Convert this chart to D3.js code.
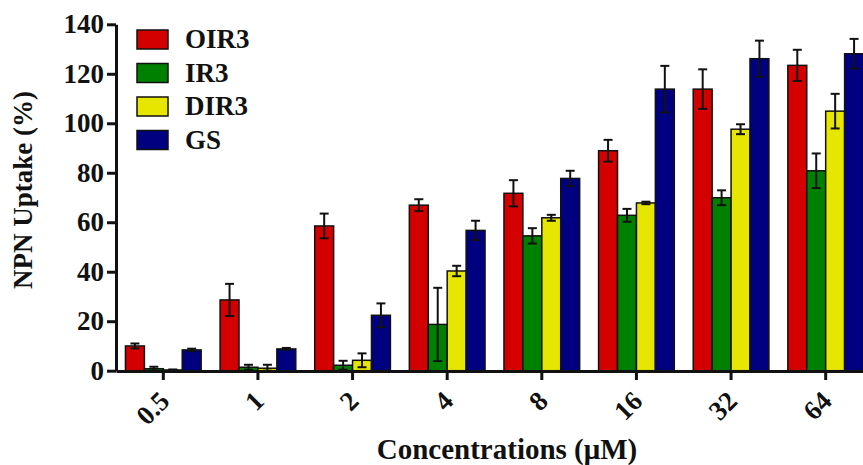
<!DOCTYPE html>
<html>
<head>
<meta charset="utf-8">
<script src="https://cdn.jsdelivr.net/npm/d3@7"></script>
<style>
  body { margin: 0; background: #fff; }
  text { font-family: "Liberation Serif", "Times New Roman", serif; font-weight: bold; }
</style>
</head>
<body>
<div id="chart"></div>
<script>
// data
var concentrations = ["0.5", "1", "2", "4", "8", "16", "32", "64"];
var seriesNames = ["OIR3", "IR3", "DIR3", "GS"];
var oir3 = [10.0, 28.6, 58.5, 66.9, 71.7, 88.9, 113.8, 123.4];
var oir3Err = [1.0, 6.5, 5.0, 2.4, 5.3, 4.4, 8.0, 6.3];
var ir3 = [0.8, 1.4, 2.2, 18.7, 54.5, 62.8, 69.9, 80.8];
var ir3Err = [0.8, 1.0, 1.8, 14.8, 3.1, 2.6, 3.0, 7.0];
var dir3 = [0.3, 1.0, 4.2, 40.3, 61.8, 67.8, 97.6, 104.9];
var dir3Err = [0.2, 1.4, 2.8, 2.1, 1.2, 0.5, 2.0, 7.0];
var gs = [8.4, 8.8, 22.4, 56.7, 77.7, 113.8, 126.1, 128.1];
var gsErr = [0.5, 0.4, 4.8, 3.9, 3.1, 9.4, 7.3, 6.0];
var yTicks = [0, 20, 40, 60, 80, 100, 120, 140];

var colors = ["#d40000", "#008000", "#e6e600", "#000080"];
var values = [oir3, ir3, dir3, gs];
var errors = [oir3Err, ir3Err, dir3Err, gsErr];

var svgWidth = 863;
var svgHeight = 465;

var svg = d3.select("#chart")
  .append("svg")
  .attr("width", svgWidth)
  .attr("height", svgHeight);

// scales
var x = d3.scaleBand()
  .domain(concentrations)
  .range([116, 873])
  .paddingInner(0.2)
  .paddingOuter(0.1);

var xSub = d3.scaleBand()
  .domain(seriesNames)
  .range([0, x.bandwidth()]);

var y = d3.scaleLinear()
  .domain([0, 140])
  .range([370.7, 24.3]);

// flatten for drawing
var rows = [];
concentrations.forEach(function(c, i) {
  seriesNames.forEach(function(s, j) {
    rows.push({conc: c, series: s, value: values[j][i], err: errors[j][i], color: colors[j]});
  });
});

// bars
svg.append("g")
  .selectAll("rect")
  .data(rows)
  .enter()
  .append("rect")
  .attr("x", d => x(d.conc) + xSub(d.series))
  .attr("y", d => y(d.value))
  .attr("width", xSub.bandwidth())
  .attr("height", d => y(0) - y(d.value))
  .attr("fill", d => d.color)
  .attr("stroke", "#111")
  .attr("stroke-width", 1.5);

// error bars
var errGroup = svg.append("g")
  .attr("stroke", "#111")
  .attr("stroke-width", 2);

rows.forEach(function(d) {
  var cx = x(d.conc) + xSub(d.series) + xSub.bandwidth() / 2;
  var lo = Math.max(0, d.value - d.err);
  var hi = d.value + d.err;
  errGroup.append("line")
    .attr("x1", cx).attr("x2", cx)
    .attr("y1", y(lo)).attr("y2", y(hi));
  errGroup.append("line")
    .attr("x1", cx - 4.5).attr("x2", cx + 4.5)
    .attr("y1", y(hi)).attr("y2", y(hi));
  errGroup.append("line")
    .attr("x1", cx - 4.5).attr("x2", cx + 4.5)
    .attr("y1", y(lo)).attr("y2", y(lo));
});

// y axis
var yAxis = svg.append("g")
  .attr("transform", "translate(116,0)")
  .call(d3.axisLeft(y).tickValues(yTicks).tickSize(9).tickSizeOuter(0).tickPadding(3));

yAxis.select(".domain").attr("stroke", "#111").attr("stroke-width", 3);
yAxis.selectAll(".tick line").attr("stroke", "#111").attr("stroke-width", 3);
yAxis.selectAll(".tick text")
  .attr("font-size", "27px")
  .attr("fill", "#111")
  .style("font-family", "'Liberation Serif', serif")
  .style("font-weight", "bold");

// x axis
var xAxis = svg.append("g")
  .attr("transform", "translate(0,371)")
  .call(d3.axisBottom(x).tickSize(9).tickSizeOuter(0));

xAxis.select(".domain").attr("stroke", "#111").attr("stroke-width", 3);
xAxis.selectAll(".tick line").attr("stroke", "#111").attr("stroke-width", 3);
xAxis.selectAll(".tick text")
  .attr("font-size", "27px")
  .attr("fill", "#111")
  .style("font-family", "'Liberation Serif', serif")
  .style("font-weight", "bold")
  .attr("text-anchor", "end")
  .attr("dy", "0.35em")
  .attr("y", 0)
  .attr("transform", "translate(1,25) rotate(-45)");

// axis titles
svg.append("text")
  .attr("transform", "translate(32,190) rotate(-90)")
  .attr("text-anchor", "middle")
  .attr("font-size", "27px")
  .attr("fill", "#111")
  .text("NPN Uptake (%)");

svg.append("text")
  .attr("x", 507)
  .attr("y", 459)
  .attr("text-anchor", "middle")
  .attr("font-size", "29px")
  .attr("fill", "#111")
  .text("Concentrations (\u03bcM)");

// legend
var legend = svg.append("g")
  .selectAll("g")
  .data(seriesNames)
  .enter()
  .append("g")
  .attr("transform", (d, i) => `translate(137, ${30 + i * 33.5})`);

legend.append("rect")
  .attr("width", 31)
  .attr("height", 19)
  .attr("fill", (d, i) => colors[i])
  .attr("stroke", "#111")
  .attr("stroke-width", 1.5);

legend.append("text")
  .attr("x", 48)
  .attr("y", 18)
  .attr("font-size", "27px")
  .attr("fill", "#111")
  .text(d => d);
</script>
</body>
</html>
